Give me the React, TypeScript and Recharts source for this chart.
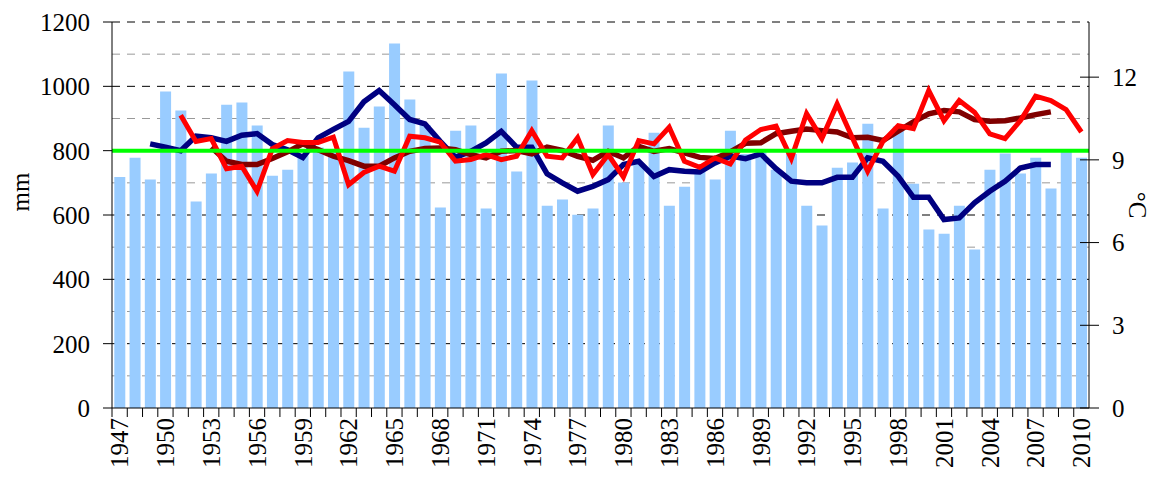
import React from 'react';
import {
  ComposedChart,
  Bar,
  Line,
  XAxis,
  YAxis,
  CartesianGrid,
  ReferenceLine
} from 'recharts';

const years = Array.from({ length: 64 }, (_, i) => String(1947 + i));

// annual precipitation, mm (1947-2010)
const precip = [
  718, 778, 710, 984, 925, 642, 729, 943, 950, 878,
  722, 741, 790, 810, 800, 1046, 871, 937, 1133, 959,
  880, 623, 862, 878, 620, 1040, 735, 1018, 629, 648,
  601, 620, 878, 701, 760, 856, 629, 688, 740, 710,
  862, 790, 800, 741, 790, 629, 567, 747, 763, 884,
  620, 875, 697, 555, 542, 629, 493, 741, 791, 729,
  778, 682, 800, 778
];

// precipitation moving average, mm (1949-2008)
const precipAvg = [
  null, null, 821, 811, 800, 845, 840, 829, 848, 853,
  819, 803, 779, 840, 866, 891, 952, 987, 943, 897,
  883, 829, 779, 798, 824, 860, 811, 811, 728, 700,
  674, 689, 710, 757, 767, 720, 741, 736, 734, 762,
  783, 775, 790, 744, 705, 700, 700, 717, 717, 778,
  767, 720, 655, 655, 586, 591, 638, 674, 705, 746,
  757, 757, null, null
];

// annual mean temperature, °C (1951-2010)
const temp = [
  null, null, null, null, 10.62, 9.67, 9.77, 8.68, 8.77, 7.86,
  9.4, 9.7, 9.63, 9.63, 9.82, 8.1, 8.54, 8.77, 8.59, 9.86,
  9.8, 9.64, 8.95, 9.01, 9.19, 9.01, 9.13, 10.06, 9.13, 9.07,
  9.8, 8.47, 9.19, 8.38, 9.7, 9.58, 10.18, 8.95, 8.73, 9.07,
  8.85, 9.72, 10.1, 10.22, 9.05, 10.68, 9.77, 11.03, 9.8, 8.59,
  9.67, 10.24, 10.13, 11.51, 10.42, 11.15, 10.73, 9.94, 9.77, 10.42,
  11.31, 11.15, 10.82, 10.01
];

// temperature moving average, °C (1953-2008)
const tempAvg = [
  null, null, null, null, null, null, 9.46, 8.95, 8.83, 8.83,
  9.05, 9.29, 9.58, 9.37, 9.13, 8.97, 8.77, 8.77, 9.07, 9.31,
  9.41, 9.43, 9.37, 9.19, 9.07, 9.31, 9.34, 9.22, 9.46, 9.34,
  9.13, 8.98, 9.31, 9.07, 9.49, 9.31, 9.41, 9.25, 9.09, 9.05,
  9.29, 9.6, 9.62, 9.95, 10.04, 10.12, 10.06, 10.01, 9.8, 9.82,
  9.7, 10.04, 10.38, 10.67, 10.79, 10.74, 10.46, 10.4, 10.42, 10.52,
  10.64, 10.74, null, null
];

const precipMean = 800;
const mmTicks = [0, 200, 400, 600, 800, 1000, 1200];
const minorMm = [100, 300, 500, 700, 900, 1100];
const majorMm = [200, 400, 600, 800, 1000, 1200];
const degTicks = [0, 3, 6, 9, 12];

const data = years.map((year, i) => ({
  year,
  precip: precip[i],
  precipAvg: precipAvg[i],
  temp: temp[i],
  tempAvg: tempAvg[i]
}));

const FONT = '"Liberation Serif", "Times New Roman", serif';
const FS = 25;

const XTick = (props: any) => {
  const { x, y, payload, index, width, visibleTicksCount } = props;
  const band = width && visibleTicksCount ? width / visibleTicksCount : 15.27;
  const bx = x - band / 2;
  const i = payload.index ?? index;
  return (
    <g>
      <line x1={bx} y1={y} x2={bx} y2={y + 9} stroke="#000" />
      {i % 3 === 0 && (
        <text
          x={x}
          y={y + 10}
          transform={`rotate(-90 ${x} ${y + 10})`}
          textAnchor="end"
          dy="0.35em"
          fontFamily={FONT}
          fontSize={FS}
          fill="#000"
        >
          {payload.value}
        </text>
      )}
    </g>
  );
};

const RightTick = (props: any) => {
  const { x, y, payload } = props;
  return (
    <g>
      <line x1={x - 9} y1={y} x2={x + 10} y2={y} stroke="#000" />
      <text x={x + 23} y={y} dy="0.35em" textAnchor="start" fontFamily={FONT} fontSize={FS} fill="#000">
        {payload.value}
      </text>
    </g>
  );
};

export default function App() {
  return (
    <div style={{ position: 'absolute', top: 0, left: 0, background: '#fff' }}>
      <ComposedChart
        width={1152}
        height={481}
        data={data}
        margin={{ top: 22, right: 0, bottom: 0, left: 0 }}
        barCategoryGap="15%"
      >
        <CartesianGrid
          yAxisId="left"
          vertical={false}
          horizontalValues={minorMm}
          stroke="#999"
          strokeDasharray="8 7"
        />
        <CartesianGrid
          yAxisId="left"
          vertical={false}
          horizontalValues={majorMm}
          stroke="#000"
          strokeDasharray="8 7"
        />
        <XAxis
          dataKey="year"
          interval={0}
          height={73}
          tickSize={0}
          tickMargin={0}
          tickLine={false}
          axisLine={{ stroke: '#000' }}
          tick={<XTick />}
        />
        <YAxis
          yAxisId="left"
          width={112}
          domain={[0, 1200]}
          ticks={mmTicks}
          tickSize={9}
          tickMargin={13}
          axisLine={{ stroke: '#000' }}
          tickLine={{ stroke: '#000' }}
          tick={{ fontFamily: FONT, fontSize: FS, fill: '#000' }}
          label={({ viewBox }: any) => (
            <text
              x={20}
              y={viewBox.y + viewBox.height / 2 - 23}
              transform={`rotate(-90 20 ${viewBox.y + viewBox.height / 2 - 23})`}
              textAnchor="middle"
              dy="0.35em"
              fontFamily={FONT}
              fontSize={FS}
              fill="#000"
            >
              mm
            </text>
          )}
        />
        <YAxis
          yAxisId="right"
          orientation="right"
          width={63}
          domain={[0, 14]}
          ticks={degTicks}
          tickSize={0}
          tickMargin={0}
          tickLine={false}
          axisLine={{ stroke: '#000' }}
          tick={<RightTick />}
          label={() => (
            <text
              x={1138}
              y={205}
              transform="rotate(90 1138 205)"
              textAnchor="middle"
              dy="0.35em"
              fontFamily={FONT}
              fontSize={FS}
              fill="#000"
            >
              °C
            </text>
          )}
        />
        <Bar yAxisId="left" dataKey="precip" fill="#99CCFF" isAnimationActive={false} />
        <Line
          yAxisId="left"
          type="linear"
          dataKey="precipAvg"
          stroke="#000080"
          strokeWidth={5.5}
          dot={false}
          isAnimationActive={false}
        />
        <Line
          yAxisId="right"
          type="linear"
          dataKey="tempAvg"
          stroke="#800000"
          strokeWidth={5.5}
          dot={false}
          isAnimationActive={false}
        />
        <Line
          yAxisId="right"
          type="linear"
          dataKey="temp"
          stroke="#FF0000"
          strokeWidth={5}
          dot={false}
          isAnimationActive={false}
        />
        <ReferenceLine yAxisId="left" y={precipMean} stroke="#00FF00" strokeWidth={4} />
      </ComposedChart>
    </div>
  );
}
